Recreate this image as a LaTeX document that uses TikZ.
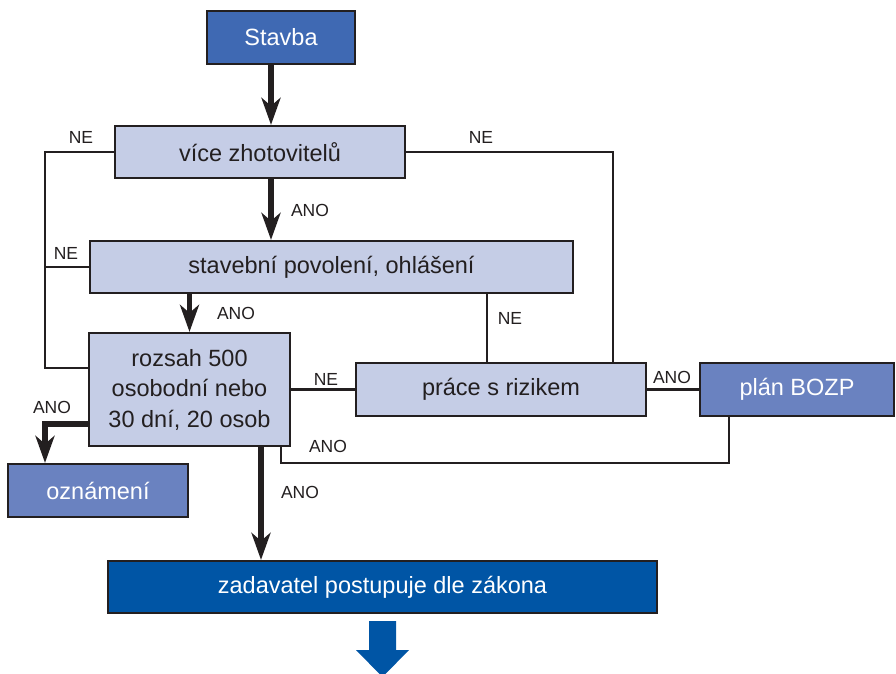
\documentclass[tikz,border=0pt]{standalone}
\usepackage{fontspec}
\setmainfont{Liberation Sans}
\usetikzlibrary{arrows.meta}
\definecolor{ink}{HTML}{231F20}
\definecolor{topblue}{HTML}{3F69B3}
\definecolor{lightbox}{HTML}{C5CDE6}
\definecolor{midblue}{HTML}{6A82C0}
\definecolor{darkblue}{HTML}{0055A5}
\tikzset{
  box/.style={draw=ink, line width=2.2pt, rectangle, inner sep=0pt, text=ink,
    font=\fontsize{23.5}{30.5}\selectfont, align=center},
  lightfill/.style={box, fill=lightbox},
  midfill/.style={box, fill=midblue, text=white},
  conn/.style={draw=ink, line width=2.2pt},
  bigarrow/.style={draw=ink, line width=5.5pt,
    -{Stealth[length=27pt,width=19pt,inset=8pt]}},
  lbl/.style={text=ink, font=\fontsize{17.5}{20}\selectfont, inner sep=0pt}
}
\begin{document}
\begin{tikzpicture}[x=1pt,y=-1pt]
\useasboundingbox (0,0) rectangle (896,674);
% boxes
\node[box, fill=topblue, text=white, minimum width=148pt, minimum height=53pt] (stavba) at (281,37.5) {Stavba};
\node[lightfill, minimum width=290pt, minimum height=52pt] (vice) at (260,152) {více zhotovitelů};
\node[lightfill, minimum width=483pt, minimum height=52pt] (stav) at (331.5,267) {stavební povolení, ohlášení};
\node[lightfill, minimum width=201pt, minimum height=113pt] (rozsah) at (189.5,389.5) {rozsah 500\\osobodní nebo\\30 dní, 20 osob};
\node[midfill, minimum width=180pt, minimum height=53pt] (ozn) at (98,490.5) {oznámení};
\node[lightfill, minimum width=290pt, minimum height=53pt] (prace) at (501,389.5) {práce s rizikem};
\node[midfill, minimum width=194pt, minimum height=53pt] (plan) at (797,389.5) {plán BOZP};
\node[box, fill=darkblue, text=white, minimum width=549pt, minimum height=52pt] (zad) at (382.5,587) {zadavatel postupuje dle zákona};
% helper coordinates
\coordinate (cx) at (271,0);
\coordinate (lft) at (45,368);
\coordinate (rt) at (613,0);
\coordinate (mid) at (487,0);
\coordinate (bz) at (729,0);
\coordinate (bot) at (281,463);
\coordinate (oz) at (45,424);
\coordinate (dn) at (261,0);
% thin connectors
\draw[conn] (vice.west) -| (lft) -- (lft -| rozsah.west);
\draw[conn] (stav.west) -- (stav.west -| lft);
\draw[conn] (vice.east) -| (prace.north -| rt);
\draw[conn] (stav.south -| mid) -- (prace.north -| mid);
\draw[conn] (rozsah.east) -- (prace.west);
\draw[conn] (prace.east) -- (plan.west);
\draw[conn] (plan.south -| bz) |- (bot) -- (bot |- rozsah.south);
% thick arrows
\draw[bigarrow] (stavba.south -| cx) -- (vice.north -| cx);
\draw[bigarrow] (vice.south -| cx) -- (stav.north -| cx);
\draw[bigarrow] (stav.south -| rozsah.north) -- (rozsah.north);
\draw[bigarrow] (oz -| rozsah.west) -| (ozn.north -| oz);
\draw[bigarrow] (rozsah.south -| dn) -- (zad.north -| dn);
% final arrow
\fill[darkblue] (369,621) -- (396,621) -- (396,650) -- (409,650) -- (382.5,677) -- (356,650) -- (369,650) -- cycle;
% labels
\node[lbl] (l1) at (81,137) {NE};
\node[lbl] (l2) at (481,137) {NE};
\node[lbl] (l3) at (310,210) {ANO};
\node[lbl] (l4) at (66,253) {NE};
\node[lbl] (l5) at (236,313) {ANO};
\node[lbl] (l6) at (510,318) {NE};
\node[lbl] (l7) at (52,407) {ANO};
\node[lbl] (l8) at (326,379) {NE};
\node[lbl] (l9) at (672,377) {ANO};
\node[lbl] (l10) at (328,446) {ANO};
\node[lbl] (l11) at (300,492) {ANO};
\end{tikzpicture}
\end{document}
